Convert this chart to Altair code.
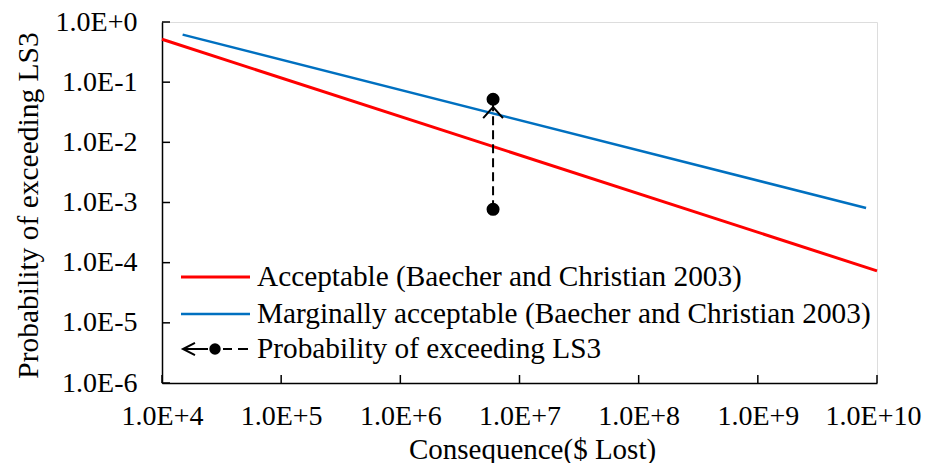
import altair as alt
import pandas as pd

# ---- data ----
x_ticks = [1e4, 1e5, 1e6, 1e7, 1e8, 1e9, 1e10]
y_ticks = [1e-6, 1e-5, 1e-4, 1e-3, 1e-2, 1e-1, 1e0]

acc_x = [1e4, 1e10]
acc_y = [0.516, 7.3e-5]
marg_x = [1.49e4, 8.1e9]
marg_y = [0.616, 8.1e-4]
ls3_x = [6.0e6, 6.0e6]
ls3_y = [7.7e-4, 0.052]

legend_labels = [
    "Acceptable (Baecher and Christian 2003)",
    "Marginally acceptable (Baecher and Christian 2003)",
    "Probability of exceeding LS3",
]
x_title = "Consequence($ Lost)"
y_title = "Probability of exceeding LS3"

RED = "#FF0000"
BLUE = "#0070C0"
FONT = "Liberation Serif"
W, H = 715, 361

acc = pd.DataFrame({"x": acc_x, "y": acc_y})
marg = pd.DataFrame({"x": marg_x, "y": marg_y})
ls3 = pd.DataFrame({"x": ls3_x, "y": ls3_y})
ls3_top = ls3.iloc[[1]]
xt = pd.DataFrame({"x": x_ticks})
yt = pd.DataFrame({"y": y_ticks})

xscale = alt.Scale(type="log", domain=[x_ticks[0], x_ticks[-1]], nice=False)
yscale = alt.Scale(type="log", domain=[y_ticks[0], y_ticks[-1]], nice=False)

xaxis = alt.Axis(
    title=x_title, values=x_ticks,
    labelExpr="'1.0E+' + round(log(datum.value)/LN10)",
    grid=False, ticks=False, tickSize=0, labelPadding=41,
    labelBaseline="alphabetic", labelFont=FONT, labelFontSize=28,
    labelColor="black", labelFlush=False, labelOverlap=False,
    labelOffset={"condition": {"test": "datum.value >= 1e10", "value": -4}, "value": 0},
    titleFont=FONT, titleFontSize=29, titleFontWeight="normal",
    titleColor="black", titleX=370, titleY=75, titleBaseline="alphabetic",
    titleAlign="center", domainColor="black", domainWidth=1.5,
)
yaxis = alt.Axis(
    title=y_title, values=y_ticks,
    labelExpr="'1.0E' + (round(log(datum.value)/LN10) >= 0 ? '+' : '-') + abs(round(log(datum.value)/LN10))",
    grid=False, ticks=False, tickSize=0, labelPadding=25,
    labelFont=FONT, labelFontSize=28, labelColor="black",
    labelFlush=False, labelOverlap=False,
    titleFont=FONT, titleFontSize=29.5, titleFontWeight="normal",
    titleColor="black", titleAngle=270, titleX=-125, titleY=183,
    titleBaseline="alphabetic", titleAlign="center",
    domainColor="black", domainWidth=1.5,
)


def X(field="x"):
    return alt.X(f"{field}:Q", scale=xscale, axis=xaxis)


def Y(field="y"):
    return alt.Y(f"{field}:Q", scale=yscale, axis=yaxis)


# inward ticks
xticks_layer = alt.Chart(xt).mark_rule(color="black", strokeWidth=1.5).encode(
    x=X(), y=alt.value(H), y2=alt.value(H - 8))
yticks_layer = alt.Chart(yt).mark_rule(color="black", strokeWidth=1.5).encode(
    y=Y(), x=alt.value(0), x2=alt.value(8))

red_line = alt.Chart(acc).mark_line(color=RED, strokeWidth=3).encode(x=X(), y=Y())
blue_line = alt.Chart(marg).mark_line(color=BLUE, strokeWidth=2.5).encode(x=X(), y=Y())

ls3_line = alt.Chart(ls3).mark_line(color="black", strokeWidth=2, strokeDash=[9, 5]).encode(x=X(), y=Y())
ls3_arrow = alt.Chart(ls3_top).mark_point(
    shape="M-1.1,2.1L0,0.86L1.1,2.1", size=324, filled=False,
    stroke="black", strokeWidth=2, opacity=1).encode(x=X(), y=Y())
ls3_pts = alt.Chart(ls3).mark_point(
    shape="circle", size=170, filled=True, color="black", opacity=1).encode(x=X(), y=Y())

# ---- legend (inside plot) ----
leg_rows = [255, 292, 327]
lx0, lx1, tx = 19, 88, 95
one = pd.DataFrame({"a": [0]})


def legend_text(i):
    return alt.Chart(one).mark_text(
        text=legend_labels[i], font=FONT, fontSize=29.3, color="black",
        align="left", baseline="alphabetic").encode(
        x=alt.value(tx), y=alt.value(leg_rows[i] + 9))


leg = [
    alt.Chart(one).mark_rule(color=RED, strokeWidth=3).encode(
        x=alt.value(lx0), x2=alt.value(lx1), y=alt.value(leg_rows[0])),
    alt.Chart(one).mark_rule(color=BLUE, strokeWidth=2.5).encode(
        x=alt.value(lx0), x2=alt.value(lx1), y=alt.value(leg_rows[1])),
    alt.Chart(one).mark_rule(color="black", strokeWidth=2).encode(
        x=alt.value(21), x2=alt.value(46), y=alt.value(leg_rows[2])),
    alt.Chart(one).mark_rule(color="black", strokeWidth=2).encode(
        x=alt.value(61), x2=alt.value(70), y=alt.value(leg_rows[2])),
    alt.Chart(one).mark_rule(color="black", strokeWidth=2).encode(
        x=alt.value(76), x2=alt.value(86), y=alt.value(leg_rows[2])),
    alt.Chart(one).mark_point(shape="M1.33,-0.67L0,0L1.33,0.67", size=324,
                              filled=False, stroke="black", strokeWidth=2,
                              opacity=1).encode(
        x=alt.value(21), y=alt.value(leg_rows[2])),
    alt.Chart(one).mark_point(shape="circle", size=130, filled=True,
                              color="black", opacity=1).encode(
        x=alt.value(53), y=alt.value(leg_rows[2])),
    legend_text(0), legend_text(1), legend_text(2),
]

chart = alt.layer(
    red_line, blue_line, ls3_line, ls3_arrow, ls3_pts,
    xticks_layer, yticks_layer, *leg,
).properties(
    width=W, height=H,
    autosize=alt.AutoSizeParams(type="none"),
    padding={"left": 154, "top": 14, "right": 45, "bottom": 80},
).configure_view(stroke="black", strokeWidth=1.5).configure(background="white")

chart.save("out.html", embed_options={"renderer": "svg", "actions": False})
